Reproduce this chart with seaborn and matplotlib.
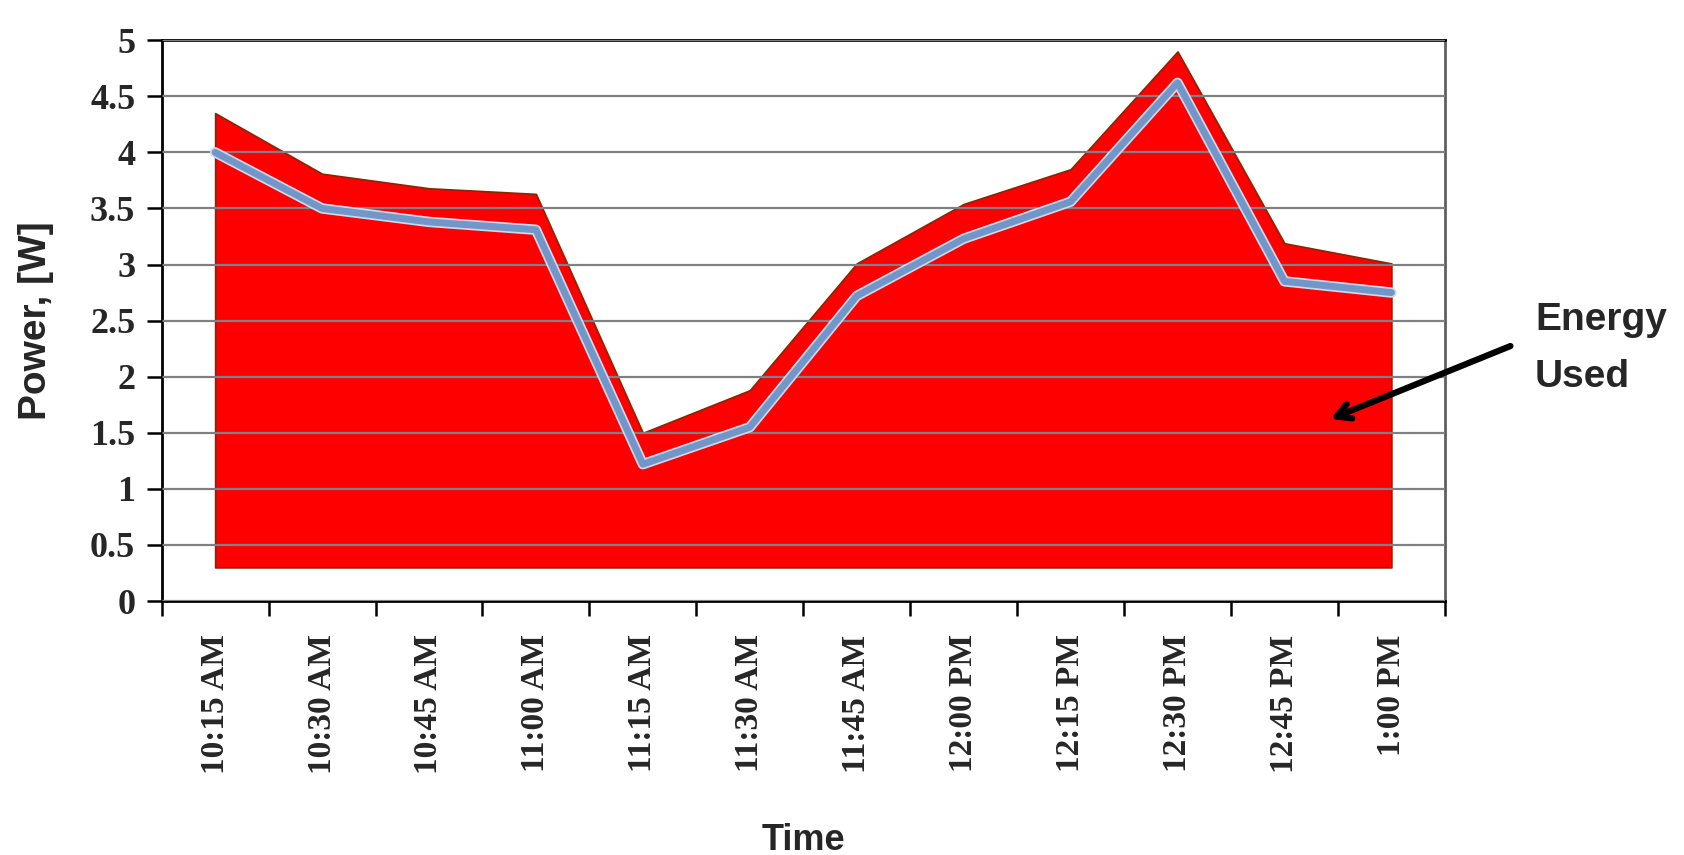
import numpy as np
import pandas as pd
import seaborn as sns
import matplotlib.pyplot as plt
import matplotlib.patheffects as pe

# values
times = ["10:15 AM", "10:30 AM", "10:45 AM", "11:00 AM", "11:15 AM", "11:30 AM",
         "11:45 AM", "12:00 PM", "12:15 PM", "12:30 PM", "12:45 PM", "1:00 PM"]
power = [4.00, 3.50, 3.38, 3.31, 1.22, 1.55, 2.72, 3.23, 3.56, 4.62, 2.85, 2.75]
area_top = [4.35, 3.81, 3.68, 3.63, 1.50, 1.88, 3.01, 3.54, 3.85, 4.90, 3.19, 3.01]
area_base = 0.3

df = pd.DataFrame({"idx": np.arange(len(times)), "time": times,
                   "power": power, "top": area_top})

sns.set_style("white")
plt.rcParams['font.family'] = ['Liberation Sans', 'DejaVu Sans']

fig = plt.figure(figsize=(16.84, 8.55), dpi=100)
ax = fig.add_axes([0.096, 0.297, 0.762, 0.656])

ax.fill_between(df["idx"], area_base, df["top"], color="#FF0000",
                edgecolor="#8B2500", linewidth=1.2, zorder=1)
sns.lineplot(data=df, x="idx", y="power", ax=ax, color="#7396C8", linewidth=5,
             zorder=3, path_effects=[pe.Stroke(linewidth=7.5, foreground="#C9D9EE"), pe.Normal()])

ax.set_xlim(-0.5, len(times) - 0.5)
ax.set_ylim(0, 5)
ax.set_yticks(np.arange(0, 5.01, 0.5))
ax.set_yticklabels(["0", "0.5", "1", "1.5", "2", "2.5", "3", "3.5", "4", "4.5", "5"],
                   fontfamily="Liberation Serif", fontweight="bold", fontsize=26)
ax.grid(True, axis="y", color="#808080", linewidth=1.6)
ax.set_axisbelow(False)

# tick marks between categories, labels at the centres
ax.set_xticks(np.arange(-0.5, len(times), 1.0))
ax.set_xticklabels([])
ax.set_xticks(df["idx"], minor=True)
ax.set_xticklabels(times, minor=True, rotation=90, fontfamily="Liberation Serif",
                   fontweight="bold", fontsize=24)
ax.tick_params(axis="x", which="major", length=11, width=1.8, color="black", direction="out", bottom=True)
ax.tick_params(axis="x", which="minor", length=0, pad=24)
ax.tick_params(axis="y", length=11, width=1.8, color="black", direction="out", left=True, pad=8)

for side in ["left", "bottom", "top"]:
    ax.spines[side].set_color("black")
    ax.spines[side].set_linewidth(2)
ax.spines["right"].set_color("#606060")
ax.spines["right"].set_linewidth(2)

ax.set_xlabel("Time", fontsize=26, fontweight="bold", labelpad=35)
ax.set_ylabel("Power, [W]", fontsize=28, fontweight="bold", labelpad=26)

ax.annotate("", xy=(1328, 435), xytext=(1513, 510), xycoords="figure pixels",
            textcoords="figure pixels",
            arrowprops=dict(arrowstyle="->,head_length=1.0,head_width=0.55", lw=4.5, color="black"))
fig.text(1535 / 1684, 1 - 302 / 855, "Energy\nUsed", fontsize=28, fontweight="bold",
         va="top", ha="left", linespacing=1.75)

plt.savefig("out.png", dpi=100)
